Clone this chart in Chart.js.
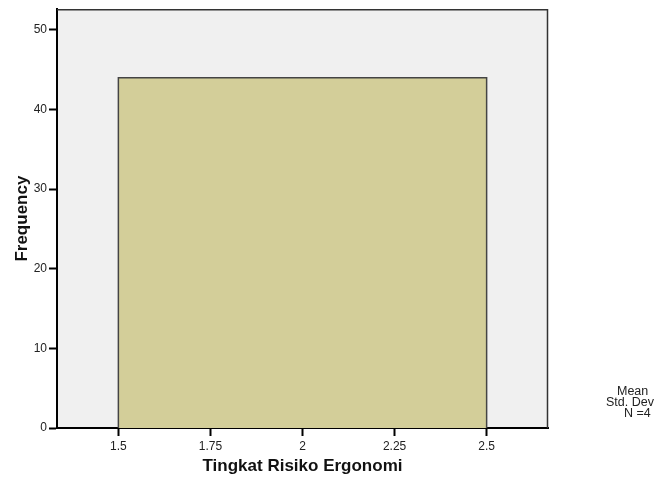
<!DOCTYPE html>
<html>
<head>
<meta charset="utf-8">
<title>Tingkat Risiko Ergonomi</title>
<script src="https://cdn.jsdelivr.net/npm/chart.js@4.4.0/dist/chart.umd.min.js"></script>
<style>
  html, body { margin: 0; padding: 0; background: #fff; }
  canvas { display: block; }
</style>
</head>
<body>
<canvas id="chart" width="657" height="483"></canvas>
<script>
// Histogram data (SPSS output)
const binEdges = [1.5, 2.5];
const frequencies = [44];
const xTicks = [1.5, 1.75, 2, 2.25, 2.5];
const xTickLabels = ["1.5", "1.75", "2", "2.25", "2.5"];
const yTicks = [0, 10, 20, 30, 40, 50];
const statsLines = ["Mean", "Std. Dev", "N =4"];

const FONT = "'Liberation Sans', Arial, sans-serif";

// outline of each bin: left edge up, across, right edge down
const histPoints = [];
frequencies.forEach((f, i) => {
    histPoints.push({ x: binEdges[i], y: 0 });
    histPoints.push({ x: binEdges[i], y: f });
    histPoints.push({ x: binEdges[i + 1], y: f });
    histPoints.push({ x: binEdges[i + 1], y: 0 });
});

// plot background, frame and stats text
const frame = {
    id: "frame",
    beforeDraw(chart) {
        const { ctx, chartArea: a } = chart;
        ctx.save();
        ctx.fillStyle = "#f0f0f0";
        ctx.fillRect(a.left, a.top, a.right - a.left, a.bottom - a.top);
        ctx.restore();
    },
    afterDraw(chart) {
        const { ctx, chartArea: a } = chart;
        ctx.save();
        ctx.strokeStyle = "#333";
        ctx.lineWidth = 1.5;
        ctx.beginPath();
        ctx.moveTo(a.left, a.top + 0.5);
        ctx.lineTo(a.right - 0.5, a.top + 0.5);
        ctx.lineTo(a.right - 0.5, a.bottom);
        ctx.stroke();

        ctx.fillStyle = "#222";
        ctx.font = "12.5px " + FONT;
        ctx.textBaseline = "middle";
        ctx.textAlign = "left";
        const xs = [617, 606, 624];
        statsLines.forEach((t, i) => ctx.fillText(t, xs[i], 392 + i * 11));
        ctx.restore();
    }
};

new Chart(document.getElementById("chart"), {
    type: "scatter",
    data: {
        datasets: [{
            data: histPoints,
            showLine: true,
            fill: "origin",
            tension: 0,
            pointRadius: 0,
            borderColor: "#444",
            borderWidth: 1.5,
            backgroundColor: "#d3ce99"
        }]
    },
    options: {
        responsive: false,
        devicePixelRatio: 1,
        animation: false,
        layout: { padding: { top: 9, right: 109, left: 0, bottom: 0 } },
        plugins: {
            legend: { display: false },
            tooltip: { enabled: false }
        },
        scales: {
            x: {
                type: "linear",
                min: 1.5 - 1 / 6,
                max: 2.5 + 1 / 6,
                afterBuildTicks: (s) => { s.ticks = xTicks.map((v) => ({ value: v })); },
                afterFit: (s) => { s.height = 55; },
                ticks: {
                    color: "#222",
                    font: { family: FONT, size: 12 },
                    padding: 3,
                    maxRotation: 0,
                    autoSkip: false,
                    callback: (v) => xTickLabels[xTicks.indexOf(v)]
                },
                grid: { drawOnChartArea: false, tickLength: 8, tickColor: "#000", tickWidth: 2 },
                border: { color: "#000", width: 2 },
                title: {
                    display: true,
                    text: "Tingkat Risiko Ergonomi",
                    color: "#111",
                    font: { family: FONT, size: 17, weight: "bold" },
                    padding: { top: 0, bottom: 6 }
                }
            },
            y: {
                min: 0,
                max: 52.6,
                afterBuildTicks: (s) => { s.ticks = yTicks.map((v) => ({ value: v })); },
                afterFit: (s) => { s.width = 57; },
                ticks: {
                    color: "#222",
                    font: { family: FONT, size: 12 },
                    padding: 2
                },
                grid: { drawOnChartArea: false, tickLength: 8, tickColor: "#000", tickWidth: 2 },
                border: { color: "#000", width: 2 },
                title: {
                    display: true,
                    text: "Frequency",
                    color: "#111",
                    font: { family: FONT, size: 17, weight: "bold" },
                    padding: { top: 12, bottom: 0 }
                }
            }
        }
    },
    plugins: [frame]
});
</script>
</body>
</html>
